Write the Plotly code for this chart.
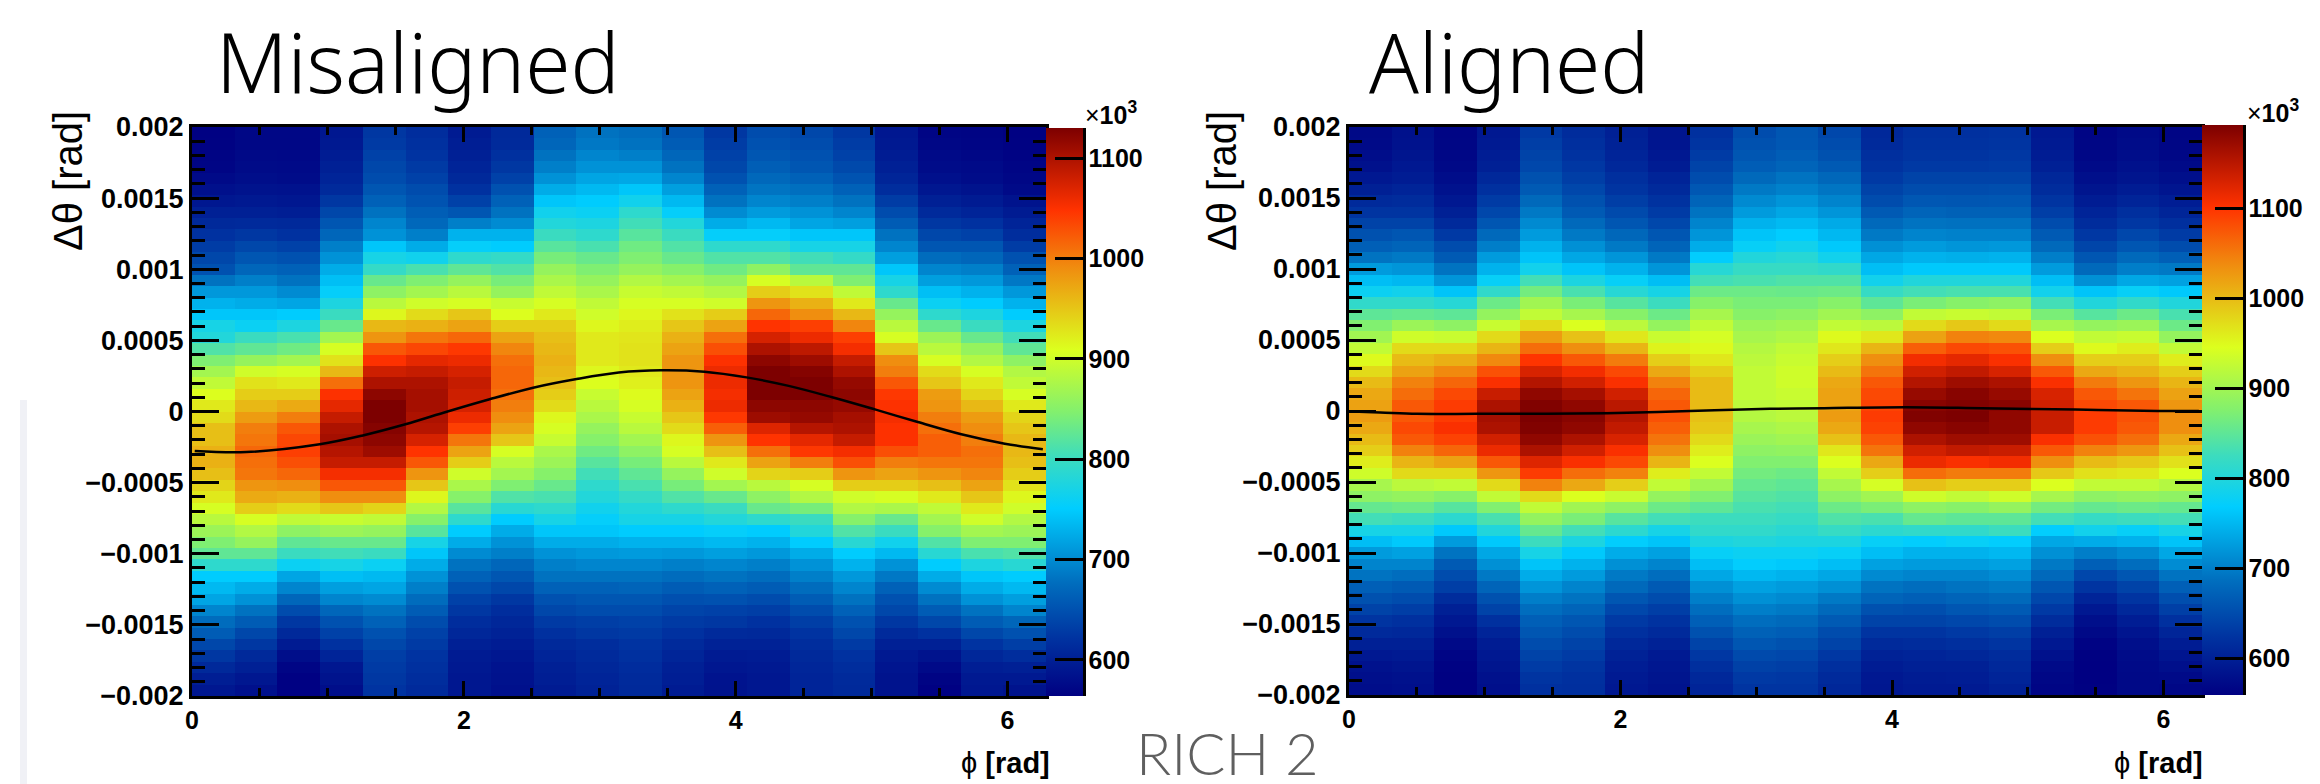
import numpy as np
import plotly.graph_objects as go

# Values, in units of 10^3. One list per phi bin, top row (dtheta=+0.002) first.
m00 = [565,566,568,570,575,582,590,600,610,620,630,640,650,680,710,730,745,770,780,815,845,870,890,910,925,935,955,955,965,965,955,940,925,905,885,865,845,825,790,750,735,720,695,675,660,640,625,610,598,590]
m01 = [572,572,574,576,580,585,592,600,612,625,640,655,670,690,710,725,745,760,800,825,860,900,930,945,960,980,1000,1005,1015,1010,1005,985,970,945,905,880,860,825,790,750,725,705,680,660,640,625,610,600,590,582]
m02 = [572,572,573,575,578,584,590,598,610,620,635,650,665,680,700,720,750,775,810,835,870,905,925,945,970,1000,1025,1035,1040,1030,1015,990,965,935,890,855,825,800,760,720,695,670,645,625,610,595,580,570,565,565]
m03 = [590,592,596,600,605,612,625,640,655,670,690,705,725,740,755,775,800,830,870,905,930,960,1010,1050,1065,1085,1100,1105,1095,1085,1055,1025,990,950,895,865,830,805,770,740,715,695,670,650,635,620,605,590,585,580]
m04 = [625,628,635,640,645,655,665,680,695,705,745,770,795,830,855,885,915,960,985,1025,1050,1080,1100,1120,1130,1130,1125,1120,1110,1085,1055,1025,990,940,890,860,830,800,760,735,720,700,680,665,650,640,632,628,625,622]
m05 = [615,618,622,628,635,645,652,662,672,690,725,765,810,845,870,900,935,965,1005,1035,1065,1085,1100,1105,1105,1100,1095,1075,1048,1025,985,950,915,880,850,820,770,745,725,705,690,675,660,645,635,628,622,618,615,612]
m06 = [595,598,600,605,610,620,635,655,690,730,755,790,825,860,885,905,950,975,1015,1045,1060,1075,1085,1080,1075,1060,1040,1005,975,945,900,875,850,820,790,750,725,700,680,665,650,635,625,615,608,600,595,592,590,590]
m07 = [610,612,618,625,635,650,665,680,700,730,750,795,815,840,860,895,910,945,975,995,1010,1015,1015,1010,1000,990,975,950,905,885,870,845,815,785,750,725,705,690,670,655,640,625,615,608,602,596,590,586,584,582]
m08 = [665,670,680,690,705,725,745,765,780,800,820,840,860,875,890,905,925,945,955,960,965,960,955,945,935,915,905,895,875,865,850,830,810,790,770,745,725,705,690,680,665,650,640,628,618,610,605,600,598,595]
m09 = [680,685,695,705,720,735,750,760,775,790,810,830,845,860,875,890,900,915,925,925,925,915,910,895,885,875,860,850,835,820,805,790,780,765,755,745,725,710,695,680,665,655,645,632,625,615,612,608,605,602]
m10 = [675,680,690,705,722,745,765,790,805,820,835,845,860,880,895,905,915,922,928,930,930,925,920,912,905,895,885,870,855,840,825,810,795,780,770,750,730,712,695,680,668,655,645,635,628,622,618,614,612,610]
m11 = [655,660,670,680,695,715,735,755,780,800,815,830,850,870,890,905,930,950,965,975,985,985,985,975,965,950,935,915,905,885,860,840,815,790,770,750,730,710,690,675,660,648,638,628,620,612,606,600,598,595]
m12 = [625,630,635,640,650,665,680,700,725,755,790,815,835,860,880,900,945,975,1010,1030,1050,1060,1060,1055,1060,1045,1020,985,955,925,900,870,830,800,780,755,735,715,695,680,665,650,635,625,612,602,595,590,586,585]
m13 = [645,650,655,662,672,682,695,712,735,755,790,815,855,905,945,985,1015,1048,1075,1100,1120,1130,1130,1130,1120,1110,1070,1048,1010,975,940,885,855,830,790,750,730,710,690,675,660,645,632,620,610,602,596,592,590,590]
m14 = [640,645,650,655,665,678,690,705,720,745,770,805,825,885,930,965,990,1040,1060,1090,1110,1125,1130,1130,1120,1115,1095,1065,1045,1000,945,905,880,840,800,780,750,725,705,690,675,660,645,632,622,615,610,607,605,605]
m15 = [625,630,635,642,652,665,680,695,715,745,770,795,825,845,890,925,960,995,1040,1055,1085,1100,1115,1120,1115,1105,1100,1085,1055,1030,985,945,900,880,850,815,785,750,730,710,695,680,665,650,640,628,620,615,612,610]
m16 = [590,592,596,600,606,615,630,645,660,680,695,715,745,770,790,830,860,885,905,950,990,1000,1025,1045,1050,1055,1050,1050,1030,1000,975,945,905,875,830,800,765,735,705,685,665,650,640,625,612,600,592,588,585,585]
m17 = [570,572,575,578,582,590,600,612,625,640,655,675,695,715,740,760,790,830,865,885,905,935,950,980,985,1000,1010,1020,1020,1005,985,955,925,890,870,850,815,785,750,725,700,680,660,640,620,600,585,575,568,565]
m18 = [568,570,572,575,578,585,595,605,620,635,655,670,690,710,730,750,775,800,830,860,880,905,925,940,960,980,990,1000,1010,1005,995,975,950,925,900,870,845,810,775,745,725,705,680,660,640,622,608,598,592,590]
m19 = [565,566,567,570,572,575,585,595,605,615,630,650,665,685,710,730,750,775,805,825,855,880,890,905,925,940,950,960,960,955,945,930,915,900,880,865,845,815,785,750,735,715,695,670,650,632,615,600,592,585]

a00 = [570,572,575,580,590,600,612,625,640,655,670,690,725,755,780,815,850,875,900,925,950,975,1000,1015,1020,1025,1015,1000,985,960,935,905,885,855,830,790,755,725,705,690,670,655,640,625,612,600,590,582,578,575]
a01 = [580,582,585,590,595,605,615,625,640,660,675,695,720,750,785,815,855,895,935,975,1000,1020,1045,1060,1075,1075,1085,1075,1045,1005,975,920,890,860,825,790,765,730,705,685,665,650,635,620,610,600,592,585,580,578]
a02 = [565,566,568,570,575,582,590,600,612,630,650,665,690,720,760,805,850,885,930,975,1010,1040,1065,1085,1095,1095,1105,1090,1065,1020,975,925,880,845,810,765,725,690,665,650,635,615,600,590,580,572,565,562,560,560]
a03 = [590,592,596,600,610,620,632,645,660,680,700,725,745,775,815,860,890,930,975,1005,1040,1080,1105,1140,1160,1165,1160,1135,1115,1075,1030,975,925,875,835,800,765,735,715,695,675,655,640,620,605,595,590,585,580,578]
a04 = [630,635,640,645,655,665,680,695,710,725,745,760,785,830,865,900,925,975,1025,1060,1100,1130,1155,1180,1190,1193,1190,1180,1160,1125,1095,1045,975,925,890,855,825,790,760,740,720,700,685,670,660,650,640,632,625,620]
a05 = [615,618,622,628,635,645,655,665,680,695,715,735,760,795,835,870,905,945,995,1035,1075,1110,1135,1165,1180,1185,1180,1160,1135,1105,1060,1015,945,900,870,830,795,765,745,725,705,690,675,660,650,640,632,625,620,618]
a06 = [600,602,605,610,618,625,635,648,660,678,695,720,745,775,805,845,880,920,965,1005,1050,1085,1105,1135,1150,1155,1145,1130,1105,1085,1045,985,930,885,845,810,770,740,715,695,680,660,645,630,620,610,602,596,592,590]
a07 = [585,586,590,595,605,612,622,632,645,660,675,695,720,755,790,825,860,890,930,955,985,1015,1045,1065,1075,1080,1070,1055,1035,1005,960,925,890,860,830,790,760,730,705,685,665,650,635,622,612,602,592,588,585,583]
a08 = [620,625,632,640,650,662,675,690,705,720,740,770,805,830,860,880,905,925,940,950,965,985,1000,1000,1000,995,990,975,960,945,925,900,875,850,825,815,795,775,755,735,715,700,685,670,655,640,628,618,610,605]
a09 = [650,655,660,668,680,695,710,725,745,760,775,800,820,835,860,870,880,895,905,915,920,925,925,925,920,915,905,895,885,875,865,855,845,835,825,815,800,780,770,750,730,715,700,685,672,660,648,638,630,625]
a10 = [660,662,668,675,690,702,720,735,752,768,785,805,820,840,858,870,885,900,912,925,930,935,935,930,925,920,910,900,888,875,860,850,840,830,820,808,795,780,765,745,725,710,695,680,668,655,645,635,628,625]
a11 = [645,650,655,665,678,692,705,720,738,750,765,785,815,840,860,880,900,925,950,965,985,1000,1015,1020,1020,1025,1015,995,965,945,925,905,885,860,840,820,795,775,755,735,715,695,680,665,650,640,628,618,612,608]
a12 = [610,612,618,622,630,640,650,665,680,695,715,735,755,785,820,850,885,920,965,1005,1035,1055,1075,1085,1090,1095,1090,1075,1055,1015,985,940,900,870,835,810,775,755,730,710,690,675,655,640,625,612,602,595,590,588]
a13 = [620,622,625,630,640,650,662,675,690,705,725,745,765,800,830,870,925,975,1020,1070,1110,1135,1155,1175,1185,1190,1180,1160,1135,1115,1060,995,935,885,855,815,770,745,725,705,685,670,652,640,625,615,605,600,595,592]
a14 = [620,622,625,630,640,650,660,672,688,702,720,742,765,800,835,880,930,990,1045,1085,1120,1145,1170,1185,1190,1193,1185,1170,1145,1105,1050,985,925,880,850,815,775,745,725,705,690,675,660,645,630,618,608,600,596,592]
a15 = [622,625,628,632,640,652,662,672,688,702,722,745,765,800,835,885,925,975,1040,1080,1105,1130,1160,1175,1185,1180,1180,1170,1140,1110,1050,985,935,890,850,825,770,750,730,712,695,680,665,650,635,625,615,610,605,600]
a16 = [590,592,595,600,608,615,625,635,650,665,680,700,725,755,785,830,870,905,945,985,1035,1075,1105,1130,1135,1140,1140,1105,1075,1035,990,945,905,865,830,770,735,715,695,680,660,645,630,615,600,590,580,572,568,565]
a17 = [565,566,568,572,578,585,595,605,615,628,642,660,680,715,760,800,845,890,925,950,985,1015,1050,1075,1085,1095,1095,1080,1045,1000,970,925,885,855,820,785,740,700,670,645,625,605,590,578,570,563,560,559,559,560]
a18 = [572,574,576,580,585,595,605,618,628,645,660,680,700,735,775,815,860,895,930,960,985,1005,1030,1055,1075,1080,1075,1060,1030,990,965,925,890,860,825,775,745,710,685,660,640,625,610,596,586,578,574,572,570,570]
a19 = [565,566,568,572,578,586,596,606,618,632,650,670,695,730,765,800,835,860,890,925,960,985,1005,1020,1030,1035,1035,1015,995,970,945,915,885,855,830,790,760,735,712,690,670,652,636,620,606,595,586,578,572,568]

misaligned_cols = [m00,m01,m02,m03,m04,m05,m06,m07,m08,m09,m10,m11,m12,m13,m14,m15,m16,m17,m18,m19]
aligned_cols = [a00,a01,a02,a03,a04,a05,a06,a07,a08,a09,a10,a11,a12,a13,a14,a15,a16,a17,a18,a19]

curve_phi_m = [0.02,0.4,0.94,1.25,1.57,1.88,2.19,2.51,2.83,3.14,3.45,3.77,4.08,4.39,4.71,5.03,5.34,5.66,5.98,6.26]
curve_m = [-0.000277,-0.000285,-0.00023,-0.00017,-0.00009,0.0,0.000086,0.000167,0.000228,0.000274,0.00029,0.00028,0.00024,0.00018,0.0001,0.000013,-0.000074,-0.00016,-0.000226,-0.000266]
curve_phi_a = [0.02,0.23,0.5,0.94,1.4,1.9,2.51,3.1,3.5,4.1,4.66,5.35,5.96,6.26]
curve_a = [-0.000003,-0.00001,-0.00002,-0.00002,-0.00002,-0.000015,0.0,0.000015,0.00002,0.000027,0.00002,0.00001,0.0,0.0]

y_tick_vals = [0.002,0.0015,0.001,0.0005,0,-0.0005,-0.001,-0.0015,-0.002]
y_tick_text = ["0.002","0.0015","0.001","0.0005","0","\u22120.0005","\u22120.001","\u22120.0015","\u22120.002"]
x_tick_vals = [0,2,4,6]
x_minor_vals = [0.5,1,1.5,2.5,3,3.5,4.5,5,5.5]
y_minor_vals = [v/10000 for v in range(-20,21) if v % 5 != 0]
cb_ticks = [600,700,800,900,1000,1100]

W, H = 2320, 784
def px(v): return v/W
def py(v): return 1-v/H

jet = [[0,"rgb(0,0,130)"],[0.1,"rgb(0,50,160)"],[0.2,"rgb(0,110,190)"],[0.33,"rgb(0,205,255)"],
       [0.42,"rgb(60,220,190)"],[0.5,"rgb(130,240,110)"],[0.61,"rgb(220,255,30)"],
       [0.755,"rgb(240,140,15)"],[0.856,"rgb(255,50,0)"],[1,"rgb(125,0,0)"]]

FONT = "Liberation Sans"
phi_edges = np.linspace(0, 2*np.pi, 21)
th_edges = np.linspace(-0.002, 0.002, 51)

fig = go.Figure()
panels = [
    (misaligned_cols, curve_phi_m, curve_m, 564, 1130, "x", "y", 192, 1046, 127, 696, 37, 128),
    (aligned_cols, curve_phi_a, curve_a, 559, 1193, "x2", "y2", 1349, 2202, 127, 695, 41, 125),
]
for cols, cx, cy, zmin, zmax, xa, ya, l, r, t, b, thick, cbtop in panels:
    z = np.array(cols).T[::-1]
    fig.add_trace(go.Heatmap(z=z, x=phi_edges, y=th_edges, zmin=zmin, zmax=zmax, colorscale=jet,
        xaxis=xa, yaxis=ya, hoverongaps=False,
        colorbar=dict(x=px(r), xanchor="left", xpad=0, ypad=0, thickness=thick, thicknessmode="pixels",
            len=(b-cbtop)/H, lenmode="fraction", y=py(b), yanchor="bottom", outlinewidth=0, borderwidth=0,
            tickmode="array", tickvals=cb_ticks, ticks="inside", ticklen=28, tickwidth=3, tickcolor="black",
            tickfont=dict(family=FONT, size=25, color="black", weight="bold"))))
    fig.add_trace(go.Scatter(x=cx, y=cy, mode="lines", xaxis=xa, yaxis=ya, showlegend=False,
        line=dict(color="black", width=2.5, shape="spline")))

def axes(l, r, t, b):
    xd = dict(domain=[px(l), px(r)], range=[0, 2*np.pi], showgrid=False, zeroline=False,
        showline=True, linecolor="black", linewidth=3, mirror="allticks", ticks="inside", ticklen=15, tickwidth=3,
        tickcolor="black", tickmode="array", tickvals=x_tick_vals,
        minor=dict(ticks="inside", ticklen=8, tickwidth=3, tickcolor="black", tickmode="array", tickvals=x_minor_vals),
        tickfont=dict(family=FONT, size=25, color="black", weight="bold"))
    yd = dict(domain=[py(b), py(t)], range=[-0.002, 0.002], showgrid=False, zeroline=False,
        showline=True, linecolor="black", linewidth=3, mirror="allticks", ticks="inside", ticklen=27, tickwidth=3,
        tickcolor="black", tickmode="array", tickvals=y_tick_vals, ticktext=y_tick_text,
        minor=dict(ticks="inside", ticklen=13, tickwidth=3, tickcolor="black", tickmode="array", tickvals=y_minor_vals),
        tickfont=dict(family=FONT, size=27, color="black", weight="bold"))
    return xd, yd

x1, y1 = axes(192, 1046, 127, 696)
x2, y2 = axes(1349, 2202, 127, 695)
x2["anchor"] = "y2"; y2["anchor"] = "x2"

def note(text, x, y, size, xanchor="center", yanchor="middle", color="black", family=FONT, angle=0, weight=None):
    return dict(text=text, x=px(x), y=py(y), xref="paper", yref="paper", showarrow=False, xanchor=xanchor,
                yanchor=yanchor, textangle=angle, font=dict(family=family, size=size, color=color, weight=weight))

annotations = [
    note("Misaligned", 214, 61, 82, xanchor="left", family="Noto Sans", weight=300),
    note("Aligned", 1367, 61, 82, xanchor="left", family="Noto Sans", weight=300),
    note("RICH 2", 1134, 752, 58, xanchor="left", color="#5f5f5f", family="Lato", weight=300),
    note("\u0394\u03b8 [rad]", 68, 181, 40, angle=-90),
    note("\u0394\u03b8 [rad]", 1222, 181, 40, angle=-90),
    note("\u03d5 <b>[rad]</b>", 1052, 763, 29, xanchor="right"),
    note("\u03d5 <b>[rad]</b>", 2205, 763, 29, xanchor="right"),
    note("\u00d7<b>10<sup>3</sup></b>", 1083, 113, 25, xanchor="left"),
    note("\u00d7<b>10<sup>3</sup></b>", 2245, 111, 25, xanchor="left"),
]

shapes = [
    dict(type="rect", xref="paper", yref="paper", x0=px(20), x1=px(27), y0=py(784), y1=py(400),
         fillcolor="#f0f1f6", line_width=0, layer="below"),
    dict(type="line", xref="paper", yref="paper", x0=px(1084.5), x1=px(1084.5), y0=py(696), y1=py(128),
         line=dict(color="black", width=3)),
    dict(type="line", xref="paper", yref="paper", x0=px(2244.5), x1=px(2244.5), y0=py(695), y1=py(125),
         line=dict(color="black", width=3)),
]

fig.update_layout(width=W, height=H, autosize=False, margin=dict(l=0, r=0, t=0, b=0, pad=0, autoexpand=False),
    paper_bgcolor="white", plot_bgcolor="white", showlegend=False,
    xaxis=x1, yaxis=y1, xaxis2=x2, yaxis2=y2, annotations=annotations, shapes=shapes)

assert all(len(c) == 50 for c in misaligned_cols + aligned_cols)
fig.write_html("out.html", config=dict(displayModeBar=False),
               post_script="document.body.style.margin='0';document.documentElement.style.overflow='hidden';")
